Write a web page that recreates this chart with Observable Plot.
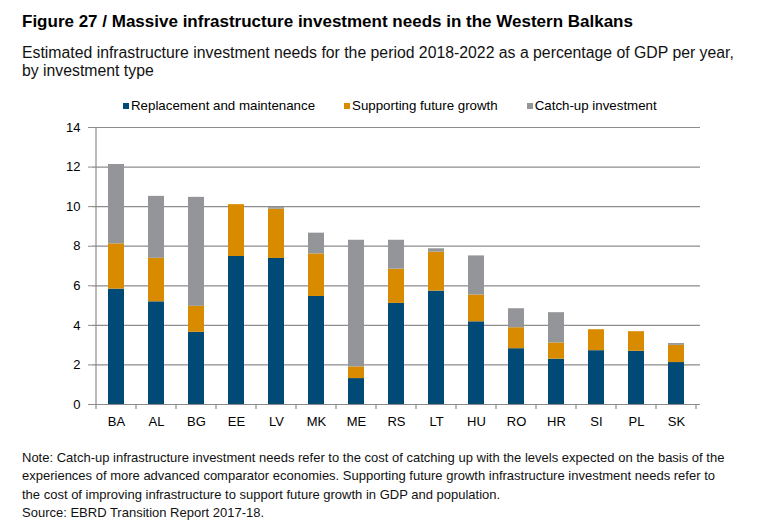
<!DOCTYPE html>
<html>
<head>
<meta charset="utf-8">
<script src="https://cdn.jsdelivr.net/npm/d3@7"></script>
<script src="https://cdn.jsdelivr.net/npm/@observablehq/plot@0.6"></script>
<style>
  body { margin: 0; background: #fff; }
  #root { position: relative; width: 771px; height: 528px; overflow: hidden; background: #fff;
          font-family: Arial, "Liberation Sans", sans-serif; color: #000; }
  #title { position: absolute; left: 22px; top: 12.8px; font-size: 17px; line-height: 18px; font-weight: bold; white-space: nowrap; }
  #subtitle { position: absolute; left: 22px; top: 43.8px; font-size: 15.8px; line-height: 18px; white-space: nowrap; color: #111; }
  #legend { position: absolute; left: 123px; top: 98.5px; display: flex; gap: 29px; font-size: 13.3px; line-height: 14px; white-space: nowrap; }
  .item { display: flex; align-items: center; }
  .sw { width: 6px; height: 6px; margin-right: 2px; margin-top: 1px; }
  #chart { position: absolute; left: 0; top: 115px; }
  #note { position: absolute; left: 22px; top: 449px; font-size: 13px; line-height: 18.3px; white-space: nowrap; color: #111; }
</style>
</head>
<body>
<div id="root">
  <div id="title">Figure 27 / Massive infrastructure investment needs in the Western Balkans</div>
  <div id="subtitle">Estimated infrastructure investment needs for the period 2018-2022 as a percentage of GDP per year,<br>by investment type</div>
  <div id="legend"></div>
  <div id="chart"></div>
  <div id="note">Note: Catch-up infrastructure investment needs refer to the cost of catching up with the levels expected on the basis of the<br>experiences of more advanced comparator economies. Supporting future growth infrastructure investment needs refer to<br>the cost of improving infrastructure to support future growth in GDP and population.<br>Source: EBRD Transition Report 2017-18.</div>
</div>
<script>
const countries   = ["BA","AL","BG","EE","LV","MK","ME","RS","LT","HU","RO","HR","SI","PL","SK"];
const replacement = [5.83, 5.19, 3.65, 7.48, 7.38, 5.46, 1.31, 5.11, 5.73, 4.18, 2.82, 2.29, 2.72, 2.69, 2.12];
const growth      = [2.29, 2.20, 1.31, 2.62, 2.49, 2.15, 0.59, 1.73, 1.97, 1.35, 1.06, 0.82, 1.06, 0.99, 0.87];
const catchup     = [4.01, 3.13, 5.51, 0.00, 0.08, 1.05, 6.40, 1.46, 0.17, 1.98, 0.96, 1.53, 0.00, 0.00, 0.09];
const seriesNames  = ["Replacement and maintenance", "Supporting future growth", "Catch-up investment"];
const seriesColors = ["#004a75", "#d98b00", "#939598"];
const yTicks = [0, 2, 4, 6, 8, 10, 12, 14];

const seriesValues = [replacement, growth, catchup];
const table = [];
seriesNames.forEach((name, s) => {
  countries.forEach((c, i) => table.push({country: c, type: name, value: seriesValues[s][i]}));
});

// legend
const legend = document.getElementById("legend");
seriesNames.forEach((name, s) => {
  const it = document.createElement("div");
  it.className = "item";
  const sw = document.createElement("span");
  sw.className = "sw";
  sw.style.background = seriesColors[s];
  const tx = document.createElement("span");
  tx.textContent = name;
  it.appendChild(sw); it.appendChild(tx);
  legend.appendChild(it);
});

const gridColor = "#8c8c8c";
const chart = Plot.plot({
  width: 771,
  height: 324,
  marginTop: 12,
  marginBottom: 35,
  marginLeft: 92,
  marginRight: 71,
  style: {fontFamily: 'Arial, "Liberation Sans", sans-serif', fontSize: "13px", color: "#000", background: "transparent", overflow: "visible"},
  x: {domain: countries, paddingInner: 0.6, paddingOuter: 0.3, label: null},
  y: {domain: [0, 14], ticks: yTicks, label: null},
  color: {domain: seriesNames, range: seriesColors},
  marks: [
    Plot.gridY(yTicks, {stroke: gridColor, strokeOpacity: 1, strokeWidth: 1.2}),
    Plot.barY(table, {x: "country", y: "value", fill: "type"}),
    Plot.ruleY([0], {stroke: gridColor, strokeWidth: 1.2}),
    Plot.axisY({ticks: yTicks, tickSize: 4, tickPadding: 8, stroke: gridColor, label: null, fontSize: 13}),
    Plot.axisX({tickSize: 0, tickPadding: 12, label: null, fontSize: 13})
  ]
});
document.getElementById("chart").appendChild(chart);

// left axis line and category boundary ticks, placed with the plot's own scales
const xs = chart.scale("x");
const ys = chart.scale("y");
const step = xs.step != null ? xs.step : (xs.range[1] - xs.range[0]) / countries.length;
const bw = xs.bandwidth != null ? xs.bandwidth : step * 0.4;
const half = (step - bw) / 2;
const y0 = ys.apply(0), yTop = ys.apply(14);
const g = d3.select(chart.tagName.toLowerCase() === "svg" ? chart : chart.querySelector("svg")).append("g")
  .attr("stroke", gridColor).attr("stroke-width", 1.2);
const bounds = countries.map(c => xs.apply(c) - half);
bounds.push(xs.apply(countries[countries.length - 1]) + bw + half);
g.append("line").attr("x1", bounds[0]).attr("x2", bounds[0]).attr("y1", y0 + 0.5).attr("y2", yTop);
bounds.forEach(b => g.append("line").attr("x1", b).attr("x2", b).attr("y1", y0).attr("y2", y0 + 5));
</script>
</body>
</html>
